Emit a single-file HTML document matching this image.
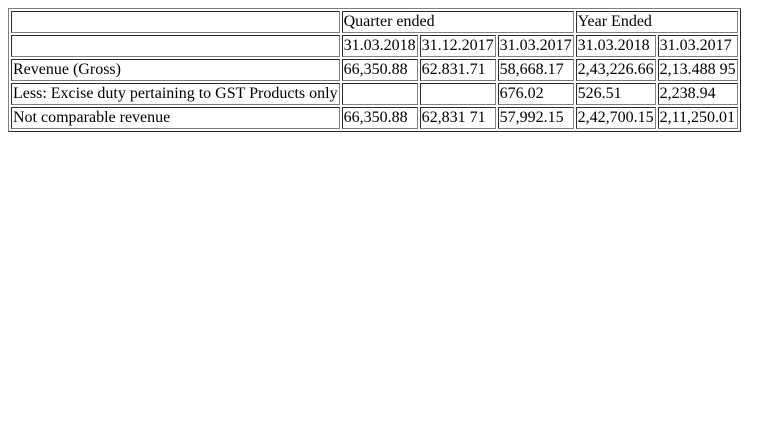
<!DOCTYPE html>
<html><head><meta charset="utf-8">
<style>
body{margin:8px;background:#fff;font-family:"Liberation Serif",serif;font-size:16px;color:#000}
table{border-collapse:separate;border-spacing:2px;border:1px outset #808080}
td{border:1px inset #808080;padding:1px;white-space:nowrap;line-height:18px}
</style></head><body>
<table>
<tr><td></td><td colspan="3">Quarter ended</td><td colspan="2">Year Ended</td></tr>
<tr><td></td><td>31.03.2018</td><td>31.12.2017</td><td>31.03.2017</td><td>31.03.2018</td><td>31.03.2017</td></tr>
<tr><td>Revenue (Gross)</td><td>66,350.88</td><td>62.831.71</td><td>58,668.17</td><td>2,43,226.66</td><td>2,13.488 95</td></tr>
<tr><td>Less: Excise duty pertaining to GST Products only</td><td></td><td></td><td>676.02</td><td>526.51</td><td>2,238.94</td></tr>
<tr><td>Not comparable revenue</td><td>66,350.88</td><td>62,831 71</td><td>57,992.15</td><td>2,42,700.15</td><td>2,11,250.01</td></tr>
</table>
</body></html>
